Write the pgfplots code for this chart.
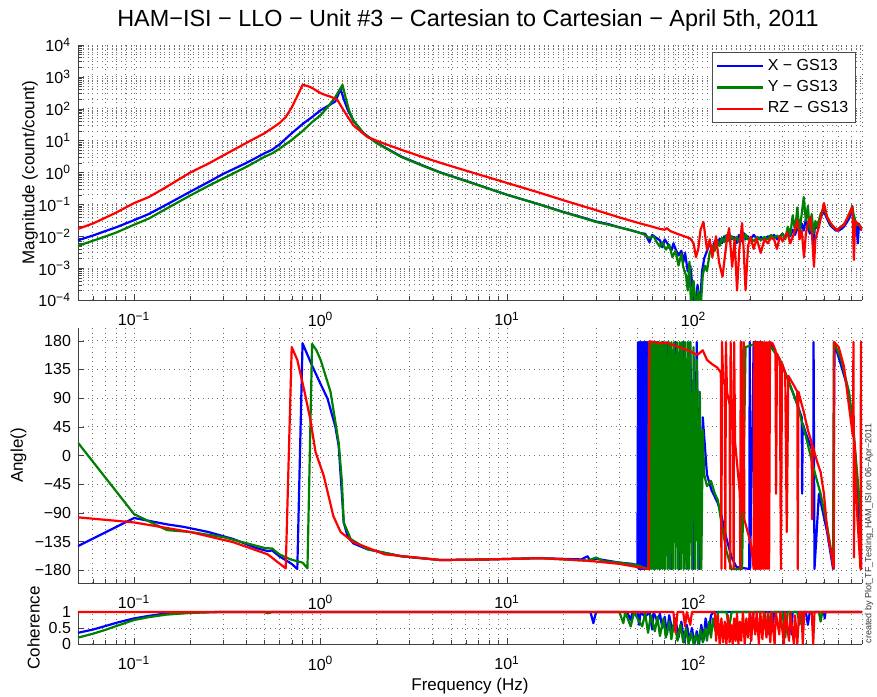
\documentclass[border=0pt]{standalone}
\usepackage{fontspec}
\setmainfont{Liberation Sans}
\usepackage{pgfplots}
\pgfplotsset{compat=1.18}
\definecolor{mblue}{rgb}{0,0,1}
\definecolor{mgreen}{rgb}{0,0.5,0}
\definecolor{mred}{rgb}{1,0,0}
\newcommand{\tp}[1]{10\textsuperscript{#1}}
\pgfplotsset{
  bode/.style={
    scale only axis, width=392pt, xmin=0.05, xmax=800,
    axis x line*=bottom, axis y line*=left, axis line style={-, black!75},
    tick style={black!75}, major tick length=3pt, minor tick length=1.8pt,
    tick label style={font=\fontsize{8}{9}\selectfont},
    xticklabel style={yshift=-2.5pt},
    xtick={0.1,1,10,100}, xticklabels={\tp{−1},\tp{0},\tp{1},\tp{2}},
    minor xtick={0.06,0.07,0.08,0.09,0.2,0.3,0.4,0.5,0.6,0.7,0.8,0.9,2,3,4,5,6,7,8,9,20,30,40,50,60,70,80,90,200,300,400,500,600,700,800},
    grid style={black!55, dotted, line width=0.45pt},
    xmajorgrids, xminorgrids, ymajorgrids,
    every axis plot/.append style={line width=1.1pt, line join=round},
    label style={font=\fontsize{8.5}{10}\selectfont},
  }
}

\begin{document}
\begin{tikzpicture}
\useasboundingbox (-39pt,22.5pt) rectangle (399.5pt,-325.5pt);

% magnitude
\begin{axis}[xmode=log, ymode=log, bode, at={(0pt,0pt)}, anchor=north west, height=127.5pt,
  ymin=1e-4, ymax=1e4,
  ytick={1e-4,1e-3,1e-2,1e-1,1,10,100,1000,10000},
  yticklabels={\tp{−4},\tp{−3},\tp{−2},\tp{−1},\tp{0},\tp{1},\tp{2},\tp{3},\tp{4}},
  minor ytick={0.0002,0.0003,0.0004,0.0005,0.0006,0.0007,0.0008,0.0009,0.002,0.003,0.004,0.005,0.006,0.007,0.008,0.009,0.02,0.03,0.04,0.05,0.06,0.07,0.08,0.09,0.2,0.3,0.4,0.5,0.6,0.7,0.8,0.9,2,3,4,5,6,7,8,9,20,30,40,50,60,70,80,90,200,300,400,500,600,700,800,900,2000,3000,4000,5000,6000,7000,8000,9000},
  yminorgrids,
  ylabel={Magnitude (count/count)},
  ylabel style={at={(axis description cs:-0.0612,0.5)}, anchor=center},
  legend style={at={(axis description cs:0.992,0.973)}, anchor=north east,
    font=\fontsize{8}{9.5}\selectfont, draw=black!70, fill=white, inner sep=1.5pt,
    row sep=-0.5pt, cells={anchor=west}},
  legend image code/.code={\draw[#1, line width=1.1pt] (0pt,0pt) -- (23pt,0pt);},
]
\addplot[mblue] coordinates {(0.05,0.0075)(0.06,0.0105)(0.07,0.0145)(0.08,0.019)(0.1,0.032)(0.12,0.05)(0.15,0.1)(0.2,0.25)(0.25,0.5)(0.3,0.9)(0.4,2.0)(0.5,4.0)(0.55,5.2)(0.6,7.5)(0.7,17)(0.8,33)(0.9,55)(1.0,90)(1.1,125)(1.2,170)(1.28,420)(1.33,200)(1.4,90)(1.5,42)(1.7,17)(2.0,8.5)(2.7,3.2)(3.5,1.7)(4.4,1.0)(6,0.55)(10,0.2)(15,0.099)(20,0.058)(25,0.040)(30,0.029)(35,0.024)(40,0.019)(45,0.016)(50,0.0135)(52,0.0125)(55,0.012)(58,0.0065)(60,0.011)(63,0.009)(66,0.0075)(68,0.0045)(70,0.008)(73,0.0055)(76,0.0035)(78,0.006)(80,0.004)(83,0.0025)(86,0.0035)(88,0.0015)(90,0.003)(93,0.0008)(96,0.0012)(99,0.0002)(102,0.00005)(105,0.0003)(108,0.00005)(111,0.0008)(114,0.002)(118,0.0035)(122,0.006)(126,0.004)(130,0.007)(134,0.005)(138,0.0085)(142,0.006)(146,0.010)(150,0.007)(155,0.012)(160,0.008)(165,0.0095)(170,0.006)(175,0.011)(180,0.007)(185,0.013)(190,0.008)(195,0.010)(200,0.0075)(210,0.011)(220,0.008)(230,0.0095)(240,0.0075)(250,0.010)(260,0.009)(270,0.011)(280,0.008)(290,0.010)(300,0.012)(310,0.009)(320,0.014)(330,0.010)(340,0.016)(350,0.011)(360,0.020)(370,0.013)(380,0.025)(390,0.015)(400,0.035)(410,0.020)(420,0.012)(430,0.028)(440,0.0035)(445,0.015)(450,0.025)(460,0.018)(480,0.040)(500,0.060)(520,0.035)(540,0.022)(560,0.018)(580,0.015)(600,0.015)(620,0.017)(640,0.020)(660,0.026)(680,0.035)(700,0.050)(710,0.060)(720,0.045)(735,0.030)(750,0.020)(760,0.006)(770,0.022)(790,0.016)(800,0.018)};
\addplot[mgreen] coordinates {(0.05,0.005)(0.06,0.0072)(0.07,0.0098)(0.08,0.013)(0.1,0.023)(0.12,0.036)(0.15,0.075)(0.2,0.19)(0.25,0.38)(0.3,0.65)(0.4,1.5)(0.5,3.1)(0.55,4.0)(0.6,5.5)(0.7,10.5)(0.8,20)(0.9,38)(1.0,63)(1.1,120)(1.2,235)(1.31,560)(1.36,230)(1.42,90)(1.5,42)(1.7,17)(2.0,8.3)(2.7,3.1)(3.5,1.65)(4.4,0.98)(6,0.54)(10,0.2)(15,0.098)(20,0.057)(25,0.039)(30,0.028)(35,0.023)(40,0.019)(45,0.016)(50,0.0135)(52,0.0125)(55,0.011)(58,0.0085)(61,0.010)(64,0.006)(66,0.0047)(68,0.0065)(71,0.0038)(74,0.0055)(77,0.0022)(80,0.0035)(83,0.0012)(86,0.0028)(88,0.0011)(91,0.0006)(93,0.0002)(95,0.0016)(97,0.00005)(100,0.0004)(103,0.00005)(106,0.0002)(109,0.00005)(112,0.0006)(115,0.0012)(118,0.0008)(122,0.003)(126,0.005)(130,0.0035)(134,0.0075)(138,0.005)(142,0.009)(146,0.0065)(150,0.011)(155,0.007)(160,0.010)(165,0.0075)(170,0.0095)(175,0.0065)(180,0.0105)(185,0.0075)(190,0.0115)(195,0.008)(200,0.009)(210,0.007)(220,0.0095)(230,0.0075)(240,0.0095)(250,0.008)(260,0.011)(270,0.0085)(280,0.0105)(290,0.009)(300,0.012)(310,0.008)(320,0.020)(330,0.011)(340,0.045)(350,0.015)(360,0.08)(370,0.014)(380,0.05)(390,0.17)(400,0.03)(410,0.09)(420,0.015)(430,0.05)(440,0.012)(450,0.03)(460,0.02)(480,0.05)(500,0.075)(520,0.04)(540,0.025)(560,0.02)(580,0.017)(600,0.017)(620,0.02)(640,0.024)(660,0.032)(680,0.045)(700,0.07)(710,0.09)(720,0.05)(735,0.032)(750,0.022)(770,0.025)(790,0.018)(800,0.02)};
\addplot[mred] coordinates {(0.05,0.017)(0.06,0.025)(0.07,0.038)(0.08,0.055)(0.1,0.11)(0.12,0.17)(0.15,0.36)(0.2,1.0)(0.25,1.9)(0.3,3.4)(0.4,8.5)(0.5,17)(0.6,35)(0.65,55)(0.7,110)(0.75,250)(0.8,560)(0.85,520)(0.9,450)(0.95,370)(1.0,310)(1.06,270)(1.15,230)(1.23,190)(1.3,110)(1.4,55)(1.5,30)(1.78,13)(2.2,8)(2.7,5.2)(3.5,3.1)(4.4,2.0)(6,1.15)(10,0.47)(15,0.23)(20,0.135)(30,0.066)(40,0.039)(52,0.025)(60,0.020)(66,0.017)(70,0.016)(72,0.018)(75,0.0145)(85,0.011)(90,0.0098)(96,0.0085)(100,0.006)(103,0.0022)(106,0.004)(109,0.016)(113,0.028)(118,0.0037)(122,0.008)(126,0.0022)(132,0.010)(137,0.0015)(143,0.00054)(150,0.006)(155,0.018)(161,0.0011)(166,0.008)(171,0.0002)(176,0.004)(182,0.026)(186,0.003)(190,0.0002)(196,0.005)(202,0.0095)(210,0.004)(218,0.0085)(229,0.003)(240,0.008)(250,0.006)(260,0.009)(270,0.008)(280,0.004)(290,0.010)(300,0.007)(318,0.013)(330,0.006)(345,0.012)(360,0.032)(370,0.008)(380,0.015)(391,0.0022)(400,0.012)(410,0.025)(424,0.04)(432,0.010)(442,0.0011)(450,0.008)(470,0.02)(500,0.11)(520,0.04)(543,0.026)(570,0.018)(590,0.015)(614,0.02)(640,0.022)(670,0.04)(700,0.07)(710,0.085)(724,0.0018)(735,0.03)(760,0.025)(786,0.02)(800,0.015)};
\legend{X − GS13, Y − GS13, RZ − GS13}
\end{axis}

% phase
\begin{axis}[xmode=log, bode, at={(0pt,-141.5pt)}, anchor=north west, height=127.5pt,
  ymin=-200, ymax=200,
  ytick={-180,-135,-90,-45,0,45,90,135,180},
  yticklabels={−180,−135,−90,−45,0,45,90,135,180},
  ylabel={Angle()},
  ylabel style={at={(axis description cs:-0.0759,0.5)}, anchor=center},
]
\addplot[mblue] coordinates {(0.05,-142)(0.1,-98)(0.15,-108)(0.185,-112)(0.25,-120)(0.34,-131)(0.45,-145)(0.52,-150)(0.55,-149)(0.6,-158)(0.7,-170)(0.75,-178)(0.8,176)(0.9,141)(1.0,112)(1.09,89)(1.2,45)(1.25,15)(1.3,-60)(1.33,-105)(1.4,-128)(1.5,-138)(1.78,-147)(2.7,-158)(4.4,-164)(8,-163)(15,-161)(25,-163)(27,-158)(28,-166)(30,-162)(40,-168)(47,-170)(50,-172)(50.4,178)(50.8,-178)(51.2,178)(51.6,-178)(52,178)(52.4,-178)(52.8,178)(53.2,-178)(53.6,178)(54,-178)(54.4,178)(54.8,-178)(55.2,178)(55.6,-178)(56,178)(56.5,-178)(57,178)(58,-178)(60,178)(62,-178)(64,178)(66,-178)(68,178)(70,-178)(73,178)(76,-178)(80,178)(84,-178)(88,178)(92,-178)(96,178)(100,-178)(104,178)(108,-178)(112,60)(118,-30)(125,-55)(130,-65)(135,-75)(140,-90)(150,-130)(160,-160)(170,-175)(199,-178)(200,178)(201,-178)(210,178)(260,175)(290,150)(320,120)(360,80)(380,60)(382,-60)(385,50)(400,35)(430,10)(438,-100)(440,178)(445,-178)(470,-60)(520,-120)(560,-178)(570,175)(620,140)(680,100)(720,40)(760,-60)(800,-178)};
\addplot[mgreen] coordinates {(0.05,20)(0.1,-92)(0.15,-117)(0.2,-120)(0.3,-128)(0.5,-145)(0.55,-146)(0.6,-155)(0.69,-163)(0.8,-168)(0.85,-177)(0.9,175)(0.95,165)(1.0,150)(1.13,100)(1.25,20)(1.3,-40)(1.33,-105)(1.45,-131)(1.78,-147)(2.7,-158)(4.4,-164)(8,-163)(15,-161)(27,-165)(30,-160)(33,-166)(40,-168)(50,-172)(57,-178)(57.6,178)(58.2,-178)(58.9,178)(59.6,-178)(60.3,178)(61,-178)(61.8,178)(62.6,-178)(63.4,178)(64.2,-178)(65,178)(66,-178)(67,178)(68,-178)(69,178)(70,-178)(71.2,178)(72.4,-178)(73.6,178)(74.8,-178)(76,178)(77.3,-178)(78.6,178)(80,-178)(81.4,178)(82.8,-178)(84.2,178)(85.6,-178)(87,178)(88.5,-178)(90,178)(91.5,-178)(93,178)(94.5,-178)(96,178)(98,-178)(100,170)(102,-178)(104,150)(106,-178)(108,100)(110,-178)(112,40)(114,-30)(118,-48)(124,-40)(130,-60)(135,-70)(140,-100)(150,-150)(160,-178)(180,-178)(181,178)(182,-178)(190,170)(230,178)(260,170)(290,150)(320,120)(360,80)(400,30)(440,-20)(480,-60)(520,-110)(560,-170)(565,178)(620,150)(680,100)(720,40)(770,-60)(800,-150)};
\addplot[mred] coordinates {(0.05,-97)(0.1,-105)(0.2,-120)(0.34,-136)(0.52,-155)(0.65,-177)(0.7,170)(0.75,150)(0.82,100)(0.88,57)(0.94,5)(1.04,-32)(1.17,-95)(1.28,-120)(1.5,-136)(2.2,-155)(4.4,-164)(8,-163)(15,-161)(27,-165)(40,-170)(50,-175)(57.5,-178)(58,179)(62,178)(66,176)(70,177)(75,175)(80,172)(88,168)(96,163)(105,158)(112,165)(118,150)(126,143)(134,138)(140,130)(141,-178)(142,178)(144,120)(147,110)(148,-178)(149,178)(151,100)(156,80)(157,-178)(158,178)(160,60)(163,40)(164,-178)(165,178)(167,20)(172,-20)(177,-60)(178,-178)(179,178)(181,-70)(185,-90)(186,178)(187,-100)(195,-120)(202,-136)(207,-160)(210,-178)(212,178)(214,-178)(216,178)(218,-178)(220,178)(222,-178)(224,178)(226,-178)(228,178)(230,-178)(233,178)(236,-178)(239,178)(242,-178)(245,178)(248,-178)(251,178)(254,-178)(257,178)(265,176)(275,165)(277,-60)(280,160)(290,150)(294,-178)(298,145)(310,130)(316,-120)(322,125)(345,110)(360,100)(362,-178)(365,100)(390,68)(410,40)(430,20)(432,-100)(435,15)(460,-10)(480,-26)(500,-60)(520,-115)(545,-150)(565,-178)(567,178)(600,170)(640,140)(670,94)(715,30)(720,178)(725,-160)(730,20)(755,-95)(785,-178)(790,178)(795,178)(798,-178)(800,178)};
\end{axis}

% coherence
\begin{axis}[xmode=log, bode, at={(0pt,-283.5pt)}, anchor=north west, height=16pt,
  ymin=0, ymax=1, clip=false,
  ytick={0,0.5,1}, yticklabels={0,0.5,1},
  xlabel={Frequency (Hz)},
  ylabel={Coherence},
  ylabel style={at={(axis description cs:-0.0568,0.5)}, anchor=center},
  xlabel style={at={(axis description cs:0.5,-1.3)}, anchor=center},
]
\addplot[mblue] coordinates {(0.05,0.35)(0.06,0.45)(0.07,0.56)(0.08,0.66)(0.1,0.8)(0.12,0.88)(0.15,0.96)(0.2,0.99)(0.3,1)(28,1)(29,0.65)(30,1)(44,1)(46,0.75)(47,1)(50,1)(51,0.6)(52,1)(55,0.85)(58,1)(60,0.45)(61,1)(64,0.7)(66,0.95)(68,0.5)(70,0.85)(72,0.3)(74,0.9)(77,0.4)(80,0.8)(83,0.2)(86,0.7)(89,0.05)(92,0.6)(95,0.1)(98,0.5)(101,0)(104,0.4)(107,0.0)(110,0.6)(113,0.1)(116,0.8)(120,0.3)(124,0.9)(128,1)(200,1)(205,0.5)(210,1)(260,1)(265,0.4)(270,1)(330,1)(335,0.3)(340,1)(400,1)(410,0.6)(420,1)(500,1)(505,0.8)(510,1)(800,1)};
\addplot[mgreen] coordinates {(0.05,0.2)(0.06,0.32)(0.07,0.44)(0.08,0.56)(0.1,0.75)(0.12,0.84)(0.15,0.92)(0.2,0.97)(0.25,0.99)(0.3,1)(0.5,1)(0.52,0.96)(0.55,1)(40,1)(42,0.65)(43,1)(46,0.55)(48,1)(50,0.8)(53,0.55)(55,0.95)(57,0.35)(59,0.9)(62,0.4)(64,0.85)(66,0.25)(69,0.8)(71,0.2)(74,0.7)(76,0.15)(79,0.75)(82,0.1)(85,0.6)(88,0.05)(91,0.5)(94,0)(97,0.35)(100,0)(103,0.3)(106,0)(109,0.45)(112,0.05)(115,0.5)(118,0.1)(121,0.7)(124,0.2)(127,0.8)(131,0.4)(135,1)(150,1)(155,0.5)(160,1)(240,1)(250,0.3)(260,1)(300,1)(310,0.2)(320,1)(360,1)(370,0.6)(380,1)(470,1)(480,0.7)(490,1)(800,1)};
\addplot[mred] coordinates {(0.05,1)(78,1)(80,0.35)(82,1)(88,1)(90,0.55)(92,1)(96,0.6)(98,1)(130,1)(132,0.1)(135,0.9)(138,0.0)(141,0.8)(144,0.05)(147,0.7)(150,0.0)(153,0.9)(156,0.05)(159,0.6)(162,0.0)(165,0.8)(168,0.1)(171,0.95)(174,0.0)(177,0.7)(180,0.1)(184,1)(188,0.0)(192,0.8)(196,0.2)(200,1)(204,0.1)(208,1)(214,0.3)(218,1)(224,0.0)(228,1)(234,0.15)(238,1)(246,0.2)(250,1)(258,0.05)(262,1)(272,0.0)(276,1)(288,0.3)(292,1)(305,0.0)(310,1)(325,0.1)(330,1)(345,0.0)(350,0.9)(360,0.0)(368,1)(380,1)(385,0.0)(392,1)(430,1)(438,0.0)(445,1)(800,1)};
\end{axis}

\node[font=\fontsize{11.7}{13}\selectfont] at (195pt,12.5pt) {HAM−ISI − LLO − Unit \#3 − Cartesian to Cartesian − April 5th, 2011};
\node[rotate=90, font=\fontsize{4.5}{5}\selectfont, black!80] at (395.5pt,-244.25pt) {created by Plot\_TF\_Testing\_HAM\_ISI on 06−Apr−2011};
\end{tikzpicture}
\end{document}
